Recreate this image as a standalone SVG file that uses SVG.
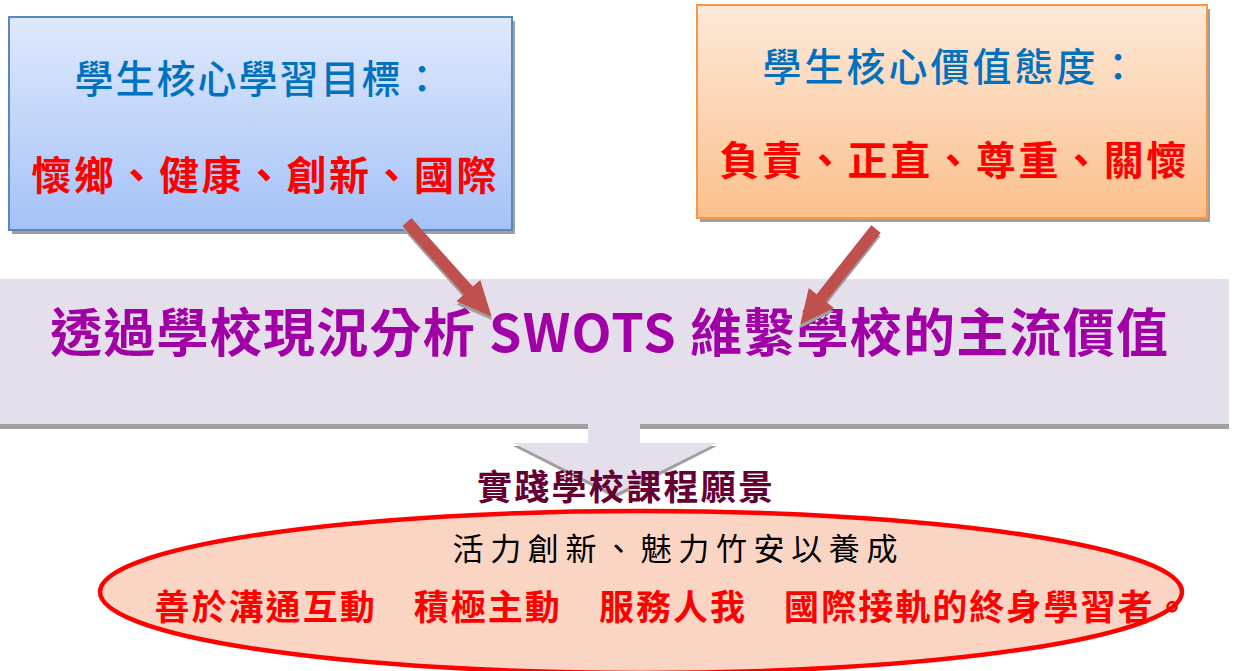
<svg xmlns="http://www.w3.org/2000/svg" width="1237" height="671" viewBox="0 0 1237 671">
<defs>
<linearGradient id="gBlue" x1="0" y1="0" x2="0" y2="1"><stop offset="0" stop-color="#dfe9fc"/><stop offset="1" stop-color="#a4c2f7"/></linearGradient>
<linearGradient id="gOrange" x1="0" y1="0" x2="0" y2="1"><stop offset="0" stop-color="#fde9d9"/><stop offset="1" stop-color="#fbc08c"/></linearGradient>
<style>
.cjk{font-family:"Noto Sans CJK TC","Noto Sans CJK SC",sans-serif}
.title{font-size:39px;fill:#0070c0;font-weight:500}
.red{font-size:40px;fill:#ff0000;font-weight:700}
.shadow{fill:#a0a0a0}
.arrow{fill:#c0504d}
</style>
</defs>
<rect width="1237" height="671" fill="#ffffff"/>
<g id="node-learning-goals">
<rect class="shadow" x="12" y="21" width="503" height="213"/>
<rect x="9" y="17" width="503" height="213" fill="url(#gBlue)" stroke="#5a86c0" stroke-width="2"/>
<text class="cjk title" x="258" y="93" text-anchor="middle" textLength="367" lengthAdjust="spacing">學生核心學習目標：</text>
<text class="cjk red" x="264" y="190" text-anchor="middle" textLength="465" lengthAdjust="spacing">懷鄉、健康、創新、國際</text>
</g>
<g id="node-values">
<rect class="shadow" x="700" y="9" width="510" height="213"/>
<rect x="697" y="5" width="510" height="213" fill="url(#gOrange)" stroke="#f79646" stroke-width="2"/>
<text class="cjk title" x="950" y="81" text-anchor="middle" textLength="375" lengthAdjust="spacing">學生核心價值態度：</text>
<text class="cjk red" x="953" y="175" text-anchor="middle" textLength="467" lengthAdjust="spacing">負責、正直、尊重、關懷</text>
</g>
<g id="node-swot">
<rect class="shadow" x="0" y="283" width="1229" height="146"/>
<rect x="0" y="279" width="1229" height="145" fill="#e5dfec"/>
<text class="cjk" x="609" y="352" text-anchor="middle" font-size="52" font-weight="700" fill="#a000a6" textLength="1118" lengthAdjust="spacing">透過學校現況分析 SWOTS 維繫學校的主流價值</text>
</g>
<g id="connectors">
<g transform="translate(407,222) rotate(48.2)">
<polygon class="shadow" transform="translate(3,2)" points="0,-6 92,-6 92,-16 127,0 92,16 92,6 0,6"/>
<polygon class="arrow" points="0,-6 92,-6 92,-16 127,0 92,16 92,6 0,6"/>
</g>
<g transform="translate(876,229) rotate(128.4)">
<polygon class="shadow" transform="translate(3,-2)" points="0,-6 88,-6 88,-16 122,0 88,16 88,6 0,6"/>
<polygon class="arrow" points="0,-6 88,-6 88,-16 122,0 88,16 88,6 0,6"/>
</g>
<polygon class="shadow" points="513,446 717,446 615,498"/>
<polygon fill="#e5dfec" points="588,423 640,423 640,443 717,443 615,494 513,443 588,443"/>
</g>
<g id="node-vision-title">
<text class="cjk" x="625" y="500" text-anchor="middle" font-size="35" font-weight="700" fill="#660033" textLength="296" lengthAdjust="spacing">實踐學校課程願景</text>
</g>
<g id="node-vision">
<ellipse cx="641" cy="592" rx="541" ry="81" fill="#fbd5c3" stroke="#ff0000" stroke-width="4.5"/>
<text class="cjk" x="675" y="560" text-anchor="middle" font-size="31" font-weight="400" fill="#000000" textLength="445" lengthAdjust="spacing">活力創新、魅力竹安以養成</text>
<text class="cjk" x="672" y="620" text-anchor="middle" font-size="35" font-weight="700" fill="#ff0000" textLength="1035" lengthAdjust="spacing">善於溝通互動　積極主動　服務人我　國際接軌的終身學習者。</text>
</g>
</svg>
